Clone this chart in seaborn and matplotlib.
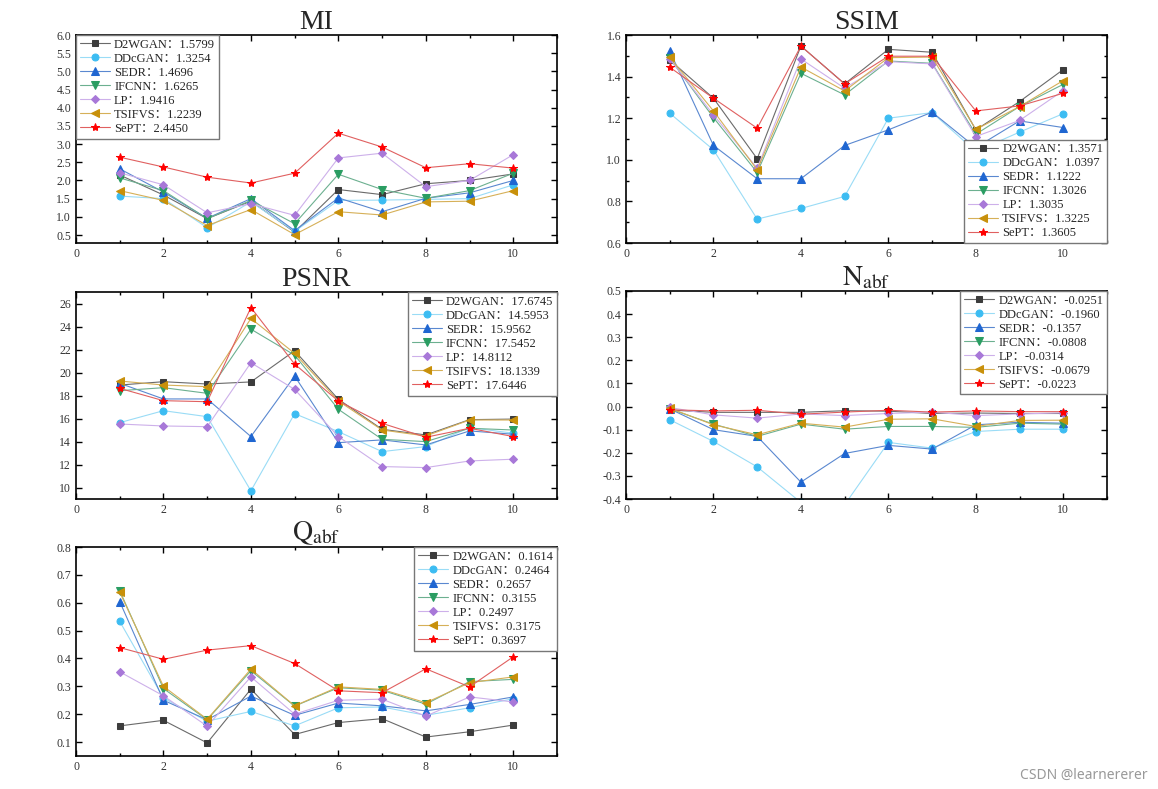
import matplotlib
matplotlib.use("Agg")
import matplotlib.pyplot as plt
from matplotlib.ticker import MultipleLocator, FormatStrFormatter
import seaborn as sns
import pandas as pd

# image index on the x axis
x = [1, 2, 3, 4, 5, 6, 7, 8, 9, 10]

methods = ["D2WGAN", "DDcGAN", "SEDR", "IFCNN", "LP", "TSIFVS", "SePT"]

# values, one row per method (same order as methods)
mi = [
    [2.15, 1.60, 0.95, 1.43, 0.58, 1.75, 1.61, 1.91, 2.00, 2.18],
    [1.57, 1.50, 0.70, 1.41, 0.60, 1.45, 1.46, 1.48, 1.50, 1.88],
    [2.32, 1.68, 0.96, 1.50, 0.62, 1.52, 1.14, 1.51, 1.66, 2.00],
    [2.07, 1.72, 0.95, 1.45, 0.81, 2.17, 1.75, 1.51, 1.72, 2.20],
    [2.21, 1.88, 1.11, 1.36, 1.04, 2.62, 2.75, 1.83, 2.00, 2.71],
    [1.72, 1.45, 0.76, 1.20, 0.51, 1.14, 1.05, 1.41, 1.43, 1.72],
    [2.64, 2.37, 2.09, 1.93, 2.20, 3.30, 2.92, 2.35, 2.46, 2.34],
]
ssim = [
    [1.480, 1.296, 1.005, 1.547, 1.365, 1.531, 1.517, 1.144, 1.280, 1.434],
    [1.224, 1.048, 0.715, 0.766, 0.824, 1.200, 1.227, 1.040, 1.133, 1.222],
    [1.523, 1.069, 0.909, 0.909, 1.069, 1.144, 1.229, 1.059, 1.187, 1.155],
    [1.488, 1.203, 0.939, 1.416, 1.312, 1.475, 1.464, 1.123, 1.256, 1.363],
    [1.485, 1.216, 0.960, 1.485, 1.344, 1.472, 1.461, 1.112, 1.189, 1.333],
    [1.493, 1.235, 0.952, 1.446, 1.331, 1.491, 1.494, 1.146, 1.256, 1.381],
    [1.445, 1.296, 1.152, 1.547, 1.365, 1.498, 1.498, 1.235, 1.259, 1.320],
]
psnr = [
    [18.91, 19.20, 19.00, 19.18, 21.89, 17.67, 15.06, 14.57, 15.90, 15.95],
    [15.64, 16.68, 16.16, 9.71, 16.42, 14.86, 13.12, 13.56, 15.21, 14.72],
    [19.06, 17.70, 17.70, 14.43, 19.69, 13.90, 14.14, 13.70, 14.92, 14.63],
    [18.42, 18.68, 18.19, 23.77, 21.51, 16.80, 14.19, 13.99, 15.15, 15.00],
    [15.52, 15.35, 15.29, 20.85, 18.53, 14.43, 11.82, 11.73, 12.31, 12.46],
    [19.26, 18.91, 18.77, 24.70, 21.66, 17.52, 15.00, 14.48, 15.87, 15.87],
    [18.62, 17.55, 17.46, 25.65, 20.73, 17.52, 15.58, 14.37, 15.15, 14.43],
]
nabf = [
    [-0.015, -0.025, -0.025, -0.025, -0.018, -0.020, -0.030, -0.028, -0.030, -0.030],
    [-0.057, -0.151, -0.261, -0.415, -0.425, -0.155, -0.180, -0.108, -0.098, -0.098],
    [-0.010, -0.100, -0.129, -0.327, -0.203, -0.168, -0.184, -0.079, -0.068, -0.072],
    [-0.010, -0.076, -0.129, -0.076, -0.098, -0.086, -0.086, -0.090, -0.072, -0.076],
    [-0.004, -0.036, -0.050, -0.032, -0.039, -0.030, -0.024, -0.039, -0.032, -0.027],
    [-0.007, -0.079, -0.122, -0.072, -0.089, -0.055, -0.053, -0.086, -0.060, -0.059],
    [-0.014, -0.019, -0.016, -0.033, -0.024, -0.016, -0.024, -0.019, -0.022, -0.022],
]
qabf = [
    [0.158, 0.178, 0.097, 0.290, 0.127, 0.170, 0.184, 0.118, 0.137, 0.161],
    [0.533, 0.258, 0.175, 0.210, 0.158, 0.223, 0.226, 0.196, 0.223, 0.256],
    [0.604, 0.250, 0.180, 0.265, 0.196, 0.240, 0.230, 0.212, 0.235, 0.262],
    [0.643, 0.292, 0.180, 0.356, 0.229, 0.295, 0.286, 0.236, 0.317, 0.325],
    [0.352, 0.266, 0.157, 0.334, 0.200, 0.250, 0.254, 0.193, 0.262, 0.244],
    [0.638, 0.300, 0.182, 0.362, 0.230, 0.298, 0.289, 0.241, 0.313, 0.334],
    [0.439, 0.397, 0.430, 0.446, 0.382, 0.284, 0.277, 0.363, 0.298, 0.406],
]

# averages printed in the legends
mi_avg = [1.5799, 1.3254, 1.4696, 1.6265, 1.9416, 1.2239, 2.4450]
ssim_avg = [1.3571, 1.0397, 1.1222, 1.3026, 1.3035, 1.3225, 1.3605]
psnr_avg = [17.6745, 14.5953, 15.9562, 17.5452, 14.8112, 18.1339, 17.6446]
nabf_avg = [-0.0251, -0.1960, -0.1357, -0.0808, -0.0314, -0.0679, -0.0223]
qabf_avg = [0.1614, 0.2464, 0.2657, 0.3155, 0.2497, 0.3175, 0.3697]

# marker colour, line colour, marker, size
styles = [
    ("#3c3c3c", "#6a6a6a", "s", 4.5),
    ("#3cbcf2", "#9adcf6", "o", 5),
    ("#1f66d1", "#5a88d0", "^", 5.5),
    ("#2a9d62", "#6cb090", "v", 5.5),
    ("#a878d8", "#cdb0ea", "D", 4.5),
    ("#c8900a", "#d6b058", "<", 5.5),
    ("#ff0000", "#e06060", "*", 6),
]

sns.set_style("ticks")
plt.rcParams["font.family"] = ["Liberation Serif", "Noto Sans CJK SC"]
plt.rcParams["mathtext.fontset"] = "stix"
plt.rcParams["axes.unicode_minus"] = False

W, H = 1158, 789
fig = plt.figure(figsize=(W / 100, H / 100), dpi=100)


def make_ax(l, t, r, b):
    return fig.add_axes([l / W, 1 - b / H, (r - l) / W, (b - t) / H])


def draw_panel(ax, values, avgs, title, ylim, ystep, yfmt, legend_loc, yminor=None):
    for i, name in enumerate(methods):
        mc, lc, mk, ms = styles[i]
        df = pd.DataFrame({"x": x, "y": values[i]})
        sns.lineplot(data=df, x="x", y="y", ax=ax, color=lc, linewidth=0.8,
                     marker=mk, markersize=ms, markerfacecolor=mc,
                     markeredgecolor=mc, label=f"{name}：{avgs[i]:.4f}")
    ax.set_xlim(0, 11)
    ax.set_ylim(*ylim)
    ax.xaxis.set_major_locator(MultipleLocator(2))
    ax.xaxis.set_minor_locator(MultipleLocator(1))
    ax.yaxis.set_major_locator(MultipleLocator(ystep))
    if yminor:
        ax.yaxis.set_minor_locator(MultipleLocator(yminor))
    ax.yaxis.set_major_formatter(FormatStrFormatter(yfmt))
    ax.set_xlabel("")
    ax.set_ylabel("")
    ax.tick_params(which="both", direction="in", top=True, right=True,
                   labelsize=8.5, colors="black", labelcolor="#333333")
    ax.tick_params(which="major", length=4, width=1)
    ax.tick_params(which="minor", length=2.5, width=1)
    for s in ax.spines.values():
        s.set_linewidth(1.2)
        s.set_color("black")
    ax.set_title(title, fontsize=20, pad=2)
    leg = ax.legend(loc=legend_loc, borderaxespad=0, fontsize=9,
                    frameon=True, fancybox=False, framealpha=1,
                    edgecolor="#777777", handlelength=2.4, handletextpad=0.35,
                    labelspacing=0.16, borderpad=0.3)
    leg.get_frame().set_linewidth(1.0)


ax_mi = make_ax(76, 35, 557, 243)
ax_ssim = make_ax(626, 35, 1107, 243)
ax_psnr = make_ax(76, 292, 557, 499)
ax_nabf = make_ax(626, 291, 1107, 499)
ax_qabf = make_ax(76, 547, 557, 756)

draw_panel(ax_mi, mi, mi_avg, "MI", (0.28, 6.0), 0.5, "%.1f", "upper left")
draw_panel(ax_ssim, ssim, ssim_avg, "SSIM", (0.6, 1.6), 0.2, "%.1f", "lower right", yminor=0.1)
draw_panel(ax_psnr, psnr, psnr_avg, "PSNR", (9, 27), 2, "%d", "upper right")
draw_panel(ax_nabf, nabf, nabf_avg, r"$\mathrm{N}_{\mathrm{abf}}$", (-0.4, 0.5), 0.1, "%.1f", "upper right")
draw_panel(ax_qabf, qabf, qabf_avg, r"$\mathrm{Q}_{\mathrm{abf}}$", (0.05, 0.8), 0.1, "%.1f", "upper right")

fig.text(1148 / W, 1 - 775 / H, "CSDN @learnererer", ha="right", va="center",
         fontsize=10, color="#999999", family=["Noto Sans", "DejaVu Sans"])

fig.savefig("out.png", dpi=100)
